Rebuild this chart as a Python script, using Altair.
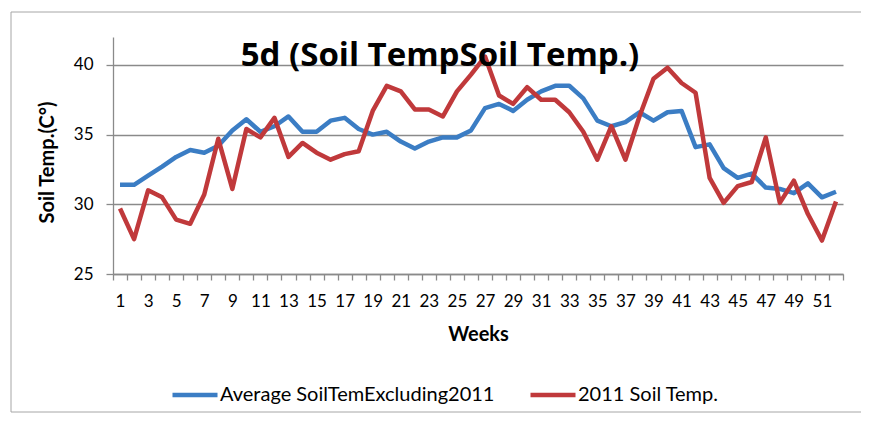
import altair as alt
import pandas as pd

weeks = list(range(1, 53))
avg_excl_2011 = [31.4, 31.4, 32.05, 32.7, 33.4, 33.9, 33.7, 34.2, 35.3, 36.1, 35.2, 35.6, 36.3,
                 35.2, 35.2, 36.0, 36.2, 35.4, 35.0, 35.2, 34.5, 34.0, 34.5, 34.8, 34.8, 35.3,
                 36.9, 37.2, 36.7, 37.5, 38.1, 38.5, 38.5, 37.6, 36.0, 35.6, 35.9, 36.6, 36.0,
                 36.6, 36.7, 34.1, 34.3, 32.6, 31.9, 32.2, 31.2, 31.1, 30.8, 31.5, 30.5, 30.9]
soil_2011 = [29.7, 27.5, 31.0, 30.5, 28.9, 28.6, 30.7, 34.7, 31.1, 35.4, 34.8, 36.2, 33.4,
             34.4, 33.7, 33.2, 33.6, 33.8, 36.7, 38.5, 38.1, 36.8, 36.8, 36.3, 38.1, 39.3,
             40.6, 37.8, 37.2, 38.4, 37.5, 37.5, 36.6, 35.2, 33.2, 35.6, 33.2, 36.3, 39.0,
             39.8, 38.7, 38.0, 31.9, 30.1, 31.3, 31.6, 34.8, 30.1, 31.7, 29.3, 27.4, 30.2]
series_names = ["Average SoilTemExcluding2011", "2011 Soil Temp."]
series_colors = ["#3B7DC4", "#C0393B"]
y_ticks = [25, 30, 35, 40]
y_domain = [25, 42]
title_text = "5d (Soil TempSoil Temp.)"
x_title = "Weeks"
y_title = "Soil Temp.(C°)"

df = pd.DataFrame({
    "week": weeks + weeks,
    "temp": avg_excl_2011 + soil_2011,
    "series": [series_names[0]] * len(weeks) + [series_names[1]] * len(weeks),
})

FONT = "Lato"
W, H = 730, 237
band = W / len(weeks)
boundaries = [w - 0.5 for w in weeks] + [weeks[-1] + 0.5]

lines = alt.Chart(df).mark_line(strokeWidth=4.5, strokeJoin="round").encode(
    x=alt.X("week:Q",
            scale=alt.Scale(domain=[0.5, 52.5], nice=False, zero=False),
            axis=alt.Axis(title=x_title, values=boundaries, grid=False,
                          labelExpr="datum.value < 52 && (datum.value + 0.5) % 2 == 1 ? format(datum.value + 0.5, 'd') : ''",
                          labelOffset=band / 2, labelOverlap=False, labelFlush=False,
                          tickSize=6, labelPadding=13, titlePadding=15,
                          labelFontSize=17, titleFontSize=20)),
    y=alt.Y("temp:Q",
            scale=alt.Scale(domain=y_domain, nice=False, zero=False),
            axis=alt.Axis(title=y_title, values=y_ticks, grid=True, tickSize=7,
                          labelPadding=13, titlePadding=16, titleY=125,
                          labelFontSize=17, titleFontSize=20)),
    color=alt.Color("series:N",
                    scale=alt.Scale(domain=series_names, range=series_colors),
                    legend=alt.Legend(orient="none", legendX=57, legendY=333,
                                      direction="horizontal", title=None,
                                      symbolType="stroke", symbolSize=2025,
                                      symbolStrokeWidth=4.5, labelFontSize=20,
                                      labelFont=FONT, labelColor="#000000",
                                      labelLimit=500,
                                      columnPadding=26, labelOffset=0)),
    order="week:Q",
)

one = alt.Data(values=[{"k": 1}])

frame = alt.Chart(one).mark_rect(fillOpacity=0, stroke="#A6A6A6", strokeWidth=1).encode(
    x=alt.value(-102), x2=alt.value(751), y=alt.value(-25), y2=alt.value(375)
)

title = alt.Chart(one).mark_text(
    text=title_text, font="Open Sans", fontSize=33, fontWeight="bold",
    align="center", baseline="alphabetic", color="#000000"
).encode(x=alt.value(327), y=alt.value(29))

chart = alt.layer(frame, lines, title).properties(
    width=W, height=H,
    padding={"left": 105, "top": 29, "right": 18, "bottom": 139},
    autosize=alt.AutoSizeParams(type="none"),
    background="white",
).configure_view(stroke=None).configure_axis(
    labelFont=FONT, titleFont=FONT, labelColor="#000000", titleColor="#000000",
    domainColor="#8A8A8A", tickColor="#8A8A8A", gridColor="#8A8A8A",
    domainWidth=1.3, tickWidth=1.3, gridWidth=1.3, titleFontWeight="bold",
)

chart.save("out.html", embed_options={"renderer": "svg", "actions": False})
